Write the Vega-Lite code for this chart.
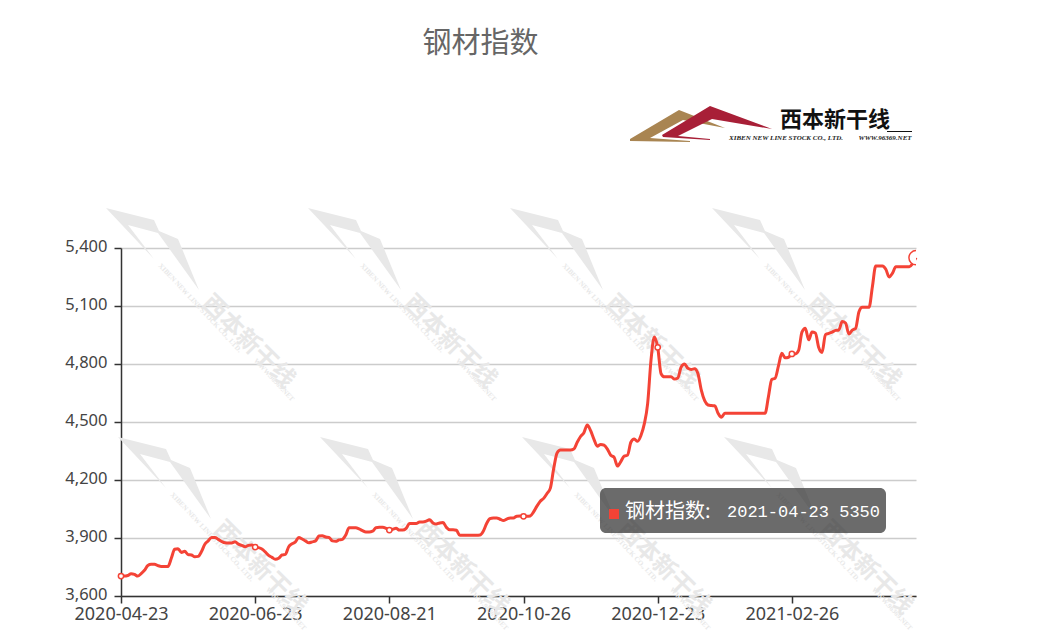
{
  "$schema": "https://vega.github.io/schema/vega-lite/v6.json",
  "width": 795,
  "height": 348,
  "autosize": "none",
  "padding": {"left": 121, "top": 248, "right": 145, "bottom": 47},
  "background": "white",
  "title": {"text": "钢材指数", "anchor": "middle", "dx": -38, "offset": 47, "font": "Noto Sans CJK SC", "fontSize": 29, "fontWeight": 400, "color": "#666666"},
  "config": {"view": {"stroke": null}},
  "datasets": {
    "prices": [
      {"date":"2020-04-23","value":3703},{"date":"2020-04-24","value":3703},{"date":"2020-04-27","value":3706},{"date":"2020-04-28","value":3715},{"date":"2020-04-29","value":3712},{"date":"2020-04-30","value":3703},
      {"date":"2020-05-06","value":3716},{"date":"2020-05-07","value":3733},{"date":"2020-05-08","value":3758},{"date":"2020-05-11","value":3764},{"date":"2020-05-12","value":3764},{"date":"2020-05-13","value":3757},{"date":"2020-05-14","value":3753},{"date":"2020-05-15","value":3753},
      {"date":"2020-05-18","value":3753},{"date":"2020-05-19","value":3795},{"date":"2020-05-20","value":3842},{"date":"2020-05-21","value":3845},{"date":"2020-05-22","value":3825},{"date":"2020-05-25","value":3831},{"date":"2020-05-26","value":3814},{"date":"2020-05-27","value":3812},{"date":"2020-05-28","value":3803},{"date":"2020-05-29","value":3805},
      {"date":"2020-06-01","value":3830},{"date":"2020-06-02","value":3868},{"date":"2020-06-03","value":3885},{"date":"2020-06-04","value":3903},{"date":"2020-06-05","value":3903},{"date":"2020-06-08","value":3893},{"date":"2020-06-09","value":3882},{"date":"2020-06-10","value":3875},{"date":"2020-06-11","value":3874},{"date":"2020-06-12","value":3874},
      {"date":"2020-06-15","value":3880},{"date":"2020-06-16","value":3868},{"date":"2020-06-17","value":3862},{"date":"2020-06-18","value":3855},{"date":"2020-06-19","value":3862},{"date":"2020-06-22","value":3864},{"date":"2020-06-23","value":3853},{"date":"2020-06-29","value":3850},{"date":"2020-06-30","value":3843},
      {"date":"2020-07-01","value":3828},{"date":"2020-07-02","value":3810},{"date":"2020-07-03","value":3800},{"date":"2020-07-06","value":3790},{"date":"2020-07-07","value":3795},{"date":"2020-07-08","value":3812},{"date":"2020-07-09","value":3815},{"date":"2020-07-10","value":3855},
      {"date":"2020-07-13","value":3870},{"date":"2020-07-14","value":3880},{"date":"2020-07-15","value":3903},{"date":"2020-07-16","value":3895},{"date":"2020-07-17","value":3885},{"date":"2020-07-20","value":3875},{"date":"2020-07-21","value":3880},{"date":"2020-07-22","value":3885},{"date":"2020-07-23","value":3910},{"date":"2020-07-24","value":3912},
      {"date":"2020-07-27","value":3905},{"date":"2020-07-28","value":3903},{"date":"2020-07-29","value":3885},{"date":"2020-07-30","value":3883},{"date":"2020-07-31","value":3890},{"date":"2020-08-03","value":3893},{"date":"2020-08-04","value":3915},{"date":"2020-08-05","value":3953},{"date":"2020-08-06","value":3953},{"date":"2020-08-07","value":3953},
      {"date":"2020-08-10","value":3947},{"date":"2020-08-11","value":3938},{"date":"2020-08-12","value":3931},{"date":"2020-08-13","value":3931},{"date":"2020-08-14","value":3935},{"date":"2020-08-17","value":3953},{"date":"2020-08-18","value":3955},{"date":"2020-08-19","value":3955},{"date":"2020-08-20","value":3950},{"date":"2020-08-21","value":3941},
      {"date":"2020-08-24","value":3945},{"date":"2020-08-25","value":3950},{"date":"2020-08-26","value":3941},{"date":"2020-08-27","value":3941},{"date":"2020-08-28","value":3950},{"date":"2020-08-31","value":3975},{"date":"2020-09-01","value":3975},{"date":"2020-09-02","value":3975},{"date":"2020-09-03","value":3983},{"date":"2020-09-04","value":3983},
      {"date":"2020-09-07","value":3987},{"date":"2020-09-08","value":3995},{"date":"2020-09-09","value":3978},{"date":"2020-09-10","value":3972},{"date":"2020-09-11","value":3978},{"date":"2020-09-14","value":3980},{"date":"2020-09-15","value":3955},{"date":"2020-09-16","value":3943},{"date":"2020-09-17","value":3943},{"date":"2020-09-18","value":3940},
      {"date":"2020-09-21","value":3914},{"date":"2020-09-22","value":3914},{"date":"2020-09-23","value":3914},{"date":"2020-09-24","value":3914},{"date":"2020-09-25","value":3914},{"date":"2020-09-28","value":3914},{"date":"2020-09-29","value":3915},{"date":"2020-09-30","value":3935},
      {"date":"2020-10-09","value":3975},{"date":"2020-10-12","value":4000},{"date":"2020-10-13","value":4004},{"date":"2020-10-14","value":4004},{"date":"2020-10-15","value":3997},{"date":"2020-10-16","value":3990},{"date":"2020-10-19","value":3998},{"date":"2020-10-20","value":4004},{"date":"2020-10-21","value":4004},{"date":"2020-10-22","value":4013},{"date":"2020-10-23","value":4014},
      {"date":"2020-10-26","value":4012},{"date":"2020-10-27","value":4012},{"date":"2020-10-28","value":4014},{"date":"2020-10-30","value":4035},{"date":"2020-11-02","value":4065},{"date":"2020-11-03","value":4090},{"date":"2020-11-04","value":4105},{"date":"2020-11-05","value":4130},{"date":"2020-11-06","value":4158},
      {"date":"2020-11-09","value":4260},{"date":"2020-11-10","value":4340},{"date":"2020-11-11","value":4355},{"date":"2020-11-12","value":4355},{"date":"2020-11-13","value":4355},{"date":"2020-11-16","value":4355},{"date":"2020-11-17","value":4360},{"date":"2020-11-18","value":4395},{"date":"2020-11-19","value":4425},{"date":"2020-11-20","value":4445},
      {"date":"2020-11-23","value":4485},{"date":"2020-11-24","value":4455},{"date":"2020-11-26","value":4410},{"date":"2020-11-27","value":4375},{"date":"2020-11-30","value":4384},{"date":"2020-12-01","value":4380},{"date":"2020-12-02","value":4360},{"date":"2020-12-03","value":4328},{"date":"2020-12-04","value":4318},
      {"date":"2020-12-07","value":4272},{"date":"2020-12-08","value":4295},{"date":"2020-12-09","value":4324},{"date":"2020-12-10","value":4328},{"date":"2020-12-11","value":4395},{"date":"2020-12-14","value":4412},{"date":"2020-12-15","value":4400},{"date":"2020-12-16","value":4430},{"date":"2020-12-17","value":4490},{"date":"2020-12-18","value":4595},
      {"date":"2020-12-21","value":4820},{"date":"2020-12-22","value":4940},{"date":"2020-12-23","value":4886},{"date":"2020-12-24","value":4750},{"date":"2020-12-25","value":4734},{"date":"2020-12-28","value":4734},{"date":"2020-12-29","value":4734},{"date":"2020-12-30","value":4722},{"date":"2020-12-31","value":4728},
      {"date":"2021-01-04","value":4785},{"date":"2021-01-05","value":4800},{"date":"2021-01-06","value":4778},{"date":"2021-01-07","value":4772},{"date":"2021-01-08","value":4775},{"date":"2021-01-11","value":4750},{"date":"2021-01-12","value":4665},{"date":"2021-01-13","value":4610},{"date":"2021-01-14","value":4588},{"date":"2021-01-15","value":4585},
      {"date":"2021-01-18","value":4584},{"date":"2021-01-19","value":4545},{"date":"2021-01-20","value":4524},{"date":"2021-01-21","value":4545},{"date":"2021-01-22","value":4545},{"date":"2021-01-25","value":4545},{"date":"2021-01-26","value":4545},{"date":"2021-01-27","value":4545},{"date":"2021-01-28","value":4545},{"date":"2021-01-29","value":4545},
      {"date":"2021-02-01","value":4545},{"date":"2021-02-02","value":4545},{"date":"2021-02-03","value":4545},{"date":"2021-02-04","value":4545},{"date":"2021-02-05","value":4545},{"date":"2021-02-08","value":4545},{"date":"2021-02-09","value":4630},{"date":"2021-02-10","value":4720},{"date":"2021-02-18","value":4726},{"date":"2021-02-19","value":4790},
      {"date":"2021-02-22","value":4855},{"date":"2021-02-23","value":4832},{"date":"2021-02-24","value":4835},{"date":"2021-02-26","value":4852},{"date":"2021-03-01","value":4852},{"date":"2021-03-02","value":4870},{"date":"2021-03-03","value":4965},{"date":"2021-03-04","value":4985},{"date":"2021-03-05","value":4925},
      {"date":"2021-03-08","value":4965},{"date":"2021-03-09","value":4960},{"date":"2021-03-11","value":4885},{"date":"2021-03-12","value":4860},{"date":"2021-03-15","value":4952},{"date":"2021-03-16","value":4958},{"date":"2021-03-17","value":4965},{"date":"2021-03-18","value":4974},{"date":"2021-03-19","value":4976},
      {"date":"2021-03-22","value":5020},{"date":"2021-03-23","value":5012},{"date":"2021-03-24","value":4955},{"date":"2021-03-25","value":4975},{"date":"2021-03-26","value":4984},{"date":"2021-03-29","value":5070},{"date":"2021-03-30","value":5093},{"date":"2021-03-31","value":5093},{"date":"2021-04-01","value":5093},{"date":"2021-04-02","value":5200},
      {"date":"2021-04-06","value":5307},{"date":"2021-04-08","value":5307},{"date":"2021-04-09","value":5307},{"date":"2021-04-12","value":5290},{"date":"2021-04-13","value":5250},{"date":"2021-04-14","value":5270},{"date":"2021-04-15","value":5303},{"date":"2021-04-16","value":5303},
      {"date":"2021-04-19","value":5303},{"date":"2021-04-20","value":5303},{"date":"2021-04-21","value":5303},{"date":"2021-04-22","value":5320},{"date":"2021-04-23","value":5350}
    ],
    "shapes": [
      {"g":"w1","part":"wm","o":0,"px":106,"py":208},{"g":"w1","part":"wm","o":1,"px":154,"py":220},{"g":"w1","part":"wm","o":2,"px":159,"py":231},{"g":"w1","part":"wm","o":3,"px":178,"py":239},{"g":"w1","part":"wm","o":4,"px":199,"py":290},{"g":"w1","part":"wm","o":5,"px":158,"py":233},{"g":"w1","part":"wm","o":6,"px":128,"py":225},{"g":"w1","part":"wm","o":7,"px":154,"py":259},
      {"g":"w2","part":"wm","o":0,"px":308,"py":208},{"g":"w2","part":"wm","o":1,"px":356,"py":220},{"g":"w2","part":"wm","o":2,"px":361,"py":231},{"g":"w2","part":"wm","o":3,"px":380,"py":239},{"g":"w2","part":"wm","o":4,"px":401,"py":290},{"g":"w2","part":"wm","o":5,"px":360,"py":233},{"g":"w2","part":"wm","o":6,"px":330,"py":225},{"g":"w2","part":"wm","o":7,"px":356,"py":259},
      {"g":"w3","part":"wm","o":0,"px":510,"py":208},{"g":"w3","part":"wm","o":1,"px":558,"py":220},{"g":"w3","part":"wm","o":2,"px":563,"py":231},{"g":"w3","part":"wm","o":3,"px":582,"py":239},{"g":"w3","part":"wm","o":4,"px":603,"py":290},{"g":"w3","part":"wm","o":5,"px":562,"py":233},{"g":"w3","part":"wm","o":6,"px":532,"py":225},{"g":"w3","part":"wm","o":7,"px":558,"py":259},
      {"g":"w4","part":"wm","o":0,"px":712,"py":208},{"g":"w4","part":"wm","o":1,"px":760,"py":220},{"g":"w4","part":"wm","o":2,"px":765,"py":231},{"g":"w4","part":"wm","o":3,"px":784,"py":239},{"g":"w4","part":"wm","o":4,"px":805,"py":290},{"g":"w4","part":"wm","o":5,"px":764,"py":233},{"g":"w4","part":"wm","o":6,"px":734,"py":225},{"g":"w4","part":"wm","o":7,"px":760,"py":259},
      {"g":"w5","part":"wm","o":0,"px":118,"py":437},{"g":"w5","part":"wm","o":1,"px":166,"py":449},{"g":"w5","part":"wm","o":2,"px":171,"py":460},{"g":"w5","part":"wm","o":3,"px":190,"py":468},{"g":"w5","part":"wm","o":4,"px":211,"py":519},{"g":"w5","part":"wm","o":5,"px":170,"py":462},{"g":"w5","part":"wm","o":6,"px":140,"py":454},{"g":"w5","part":"wm","o":7,"px":166,"py":488},
      {"g":"w6","part":"wm","o":0,"px":320,"py":437},{"g":"w6","part":"wm","o":1,"px":368,"py":449},{"g":"w6","part":"wm","o":2,"px":373,"py":460},{"g":"w6","part":"wm","o":3,"px":392,"py":468},{"g":"w6","part":"wm","o":4,"px":413,"py":519},{"g":"w6","part":"wm","o":5,"px":372,"py":462},{"g":"w6","part":"wm","o":6,"px":342,"py":454},{"g":"w6","part":"wm","o":7,"px":368,"py":488},
      {"g":"w7","part":"wm","o":0,"px":522,"py":437},{"g":"w7","part":"wm","o":1,"px":570,"py":449},{"g":"w7","part":"wm","o":2,"px":575,"py":460},{"g":"w7","part":"wm","o":3,"px":594,"py":468},{"g":"w7","part":"wm","o":4,"px":615,"py":519},{"g":"w7","part":"wm","o":5,"px":574,"py":462},{"g":"w7","part":"wm","o":6,"px":544,"py":454},{"g":"w7","part":"wm","o":7,"px":570,"py":488},
      {"g":"w8","part":"wm","o":0,"px":724,"py":437},{"g":"w8","part":"wm","o":1,"px":772,"py":449},{"g":"w8","part":"wm","o":2,"px":777,"py":460},{"g":"w8","part":"wm","o":3,"px":796,"py":468},{"g":"w8","part":"wm","o":4,"px":817,"py":519},{"g":"w8","part":"wm","o":5,"px":776,"py":462},{"g":"w8","part":"wm","o":6,"px":746,"py":454},{"g":"w8","part":"wm","o":7,"px":772,"py":488},
      {"g":"b","part":"brown","o":0,"px":630,"py":139},{"g":"b","part":"brown","o":1,"px":679,"py":110},{"g":"b","part":"brown","o":2,"px":725,"py":128},{"g":"b","part":"brown","o":3,"px":683,"py":120},{"g":"b","part":"brown","o":4,"px":650,"py":138},{"g":"b","part":"brown","o":5,"px":690,"py":141},{"g":"b","part":"brown","o":6,"px":690,"py":142},{"g":"b","part":"brown","o":7,"px":630,"py":141},
      {"g":"r","part":"red","o":0,"px":662,"py":135},{"g":"r","part":"red","o":1,"px":710,"py":106},{"g":"r","part":"red","o":2,"px":772,"py":129},{"g":"r","part":"red","o":3,"px":712,"py":119},{"g":"r","part":"red","o":4,"px":678,"py":136},{"g":"r","part":"red","o":5,"px":710,"py":139},{"g":"r","part":"red","o":6,"px":710,"py":140},{"g":"r","part":"red","o":7,"px":663,"py":137},
      {"g":"u","part":"ink","o":0,"px":887,"py":131},{"g":"u","part":"ink","o":1,"px":912,"py":131},{"g":"u","part":"ink","o":2,"px":912,"py":132},{"g":"u","part":"ink","o":3,"px":887,"py":132}
    ],
    "wmName": [
      {"label":"西本新干线","px":248,"py":342},{"label":"西本新干线","px":450,"py":342},{"label":"西本新干线","px":652,"py":342},{"label":"西本新干线","px":854,"py":342},
      {"label":"西本新干线","px":260,"py":568},{"label":"西本新干线","px":462,"py":568},{"label":"西本新干线","px":664,"py":568},{"label":"西本新干线","px":866,"py":568}
    ],
    "wmSmall": [
      {"label":"XIBEN NEW LINE STOCK CO., LTD.","px":200,"py":308},{"label":"XIBEN NEW LINE STOCK CO., LTD.","px":402,"py":308},{"label":"XIBEN NEW LINE STOCK CO., LTD.","px":604,"py":308},{"label":"XIBEN NEW LINE STOCK CO., LTD.","px":806,"py":308},
      {"label":"XIBEN NEW LINE STOCK CO., LTD.","px":212,"py":537},{"label":"XIBEN NEW LINE STOCK CO., LTD.","px":414,"py":537},{"label":"XIBEN NEW LINE STOCK CO., LTD.","px":616,"py":537},{"label":"XIBEN NEW LINE STOCK CO., LTD.","px":818,"py":537},
      {"label":"WWW.96369.NET","px":274,"py":380},{"label":"WWW.96369.NET","px":476,"py":380},{"label":"WWW.96369.NET","px":678,"py":380},{"label":"WWW.96369.NET","px":880,"py":380},
      {"label":"WWW.96369.NET","px":286,"py":609},{"label":"WWW.96369.NET","px":488,"py":609},{"label":"WWW.96369.NET","px":690,"py":609},{"label":"WWW.96369.NET","px":892,"py":609}
    ]
  },
  "layer": [
    {
      "data": {"name": "shapes"},
      "mark": {"type": "line", "strokeWidth": 0},
      "encoding": {
        "x": {"field": "px", "type": "quantitative", "scale": {"domain": [121, 916], "nice": false, "zero": false}, "axis": null},
        "y": {"field": "py", "type": "quantitative", "scale": {"domain": [248, 596], "nice": false, "zero": false, "reverse": true}, "axis": null},
        "detail": {"field": "g"},
        "order": {"field": "o"},
        "fill": {"field": "part", "type": "nominal", "legend": null, "scale": {"domain": ["wm", "brown", "red", "ink"], "range": ["#e8e8e8", "#a98552", "#a81f37", "#111111"]}}
      }
    },
    {
      "data": {"name": "wmName"},
      "mark": {"type": "text", "angle": 45, "font": "Noto Sans CJK SC", "fontSize": 24, "fontWeight": 700, "color": "#e8e8e8"},
      "encoding": {
        "x": {"field": "px", "type": "quantitative", "scale": {"domain": [121, 916], "nice": false, "zero": false}, "axis": null},
        "y": {"field": "py", "type": "quantitative", "scale": {"domain": [248, 596], "nice": false, "zero": false, "reverse": true}, "axis": null},
        "text": {"field": "label"}
      }
    },
    {
      "data": {"name": "wmSmall"},
      "mark": {"type": "text", "angle": 47, "font": "Liberation Serif", "fontSize": 7, "fontWeight": 700, "color": "#e8e8e8"},
      "encoding": {
        "x": {"field": "px", "type": "quantitative", "scale": {"domain": [121, 916], "nice": false, "zero": false}, "axis": null},
        "y": {"field": "py", "type": "quantitative", "scale": {"domain": [248, 596], "nice": false, "zero": false, "reverse": true}, "axis": null},
        "text": {"field": "label"}
      }
    },
    {
      "data": {"values": [{"label":"西本新干线","px":835,"py":120}]},
      "mark": {"type": "text", "font": "Noto Sans CJK SC", "fontSize": 22, "fontWeight": 700, "color": "#111111"},
      "encoding": {
        "x": {"field": "px", "type": "quantitative", "scale": {"domain": [121, 916], "nice": false, "zero": false}, "axis": null},
        "y": {"field": "py", "type": "quantitative", "scale": {"domain": [248, 596], "nice": false, "zero": false, "reverse": true}, "axis": null},
        "text": {"field": "label"}
      }
    },
    {
      "data": {"values": [{"label":"XIBEN NEW LINE STOCK CO., LTD.","px":786,"py":138},{"label":"WWW.96369.NET","px":885,"py":138}]},
      "mark": {"type": "text", "font": "Liberation Serif", "fontSize": 7, "fontWeight": 700, "fontStyle": "italic", "color": "#222222"},
      "encoding": {
        "x": {"field": "px", "type": "quantitative", "scale": {"domain": [121, 916], "nice": false, "zero": false}, "axis": null},
        "y": {"field": "py", "type": "quantitative", "scale": {"domain": [248, 596], "nice": false, "zero": false, "reverse": true}, "axis": null},
        "text": {"field": "label"}
      }
    },
    {
      "data": {"name": "prices"},
      "encoding": {
        "x": {
          "field": "date", "type": "ordinal", "sort": null,
          "scale": {"type": "point", "padding": 0},
          "axis": {
            "title": null, "orient": "bottom", "grid": false, "labelAngle": 0,
            "values": ["2020-04-23", "2020-06-23", "2020-08-21", "2020-10-26", "2020-12-23", "2021-02-26"],
            "labelFont": "Noto Sans", "labelFontSize": 18, "labelColor": "#444444", "labelPadding": 2,
            "domainColor": "#333333", "domainWidth": 1.5, "tickColor": "#333333", "tickWidth": 1.5, "tickSize": 7
          }
        },
        "y": {
          "field": "value", "type": "quantitative",
          "scale": {"domain": [3600, 5400], "nice": false, "zero": false},
          "axis": {
            "title": null, "values": [3600, 3900, 4200, 4500, 4800, 5100, 5400], "format": ",.0f",
            "grid": true, "gridColor": "#cccccc", "gridWidth": 1.5,
            "labelFont": "Noto Sans", "labelFontSize": 16.5, "labelColor": "#444444", "labelPadding": 7, "labelOffset": -2,
            "domainColor": "#333333", "domainWidth": 1.5, "tickColor": "#333333", "tickWidth": 1.5, "tickSize": 7
          }
        }
      },
      "layer": [
        {"mark": {"type": "line", "color": "#f44336", "strokeWidth": 3, "interpolate": "monotone"}},
        {
          "transform": [{"filter": {"field": "date", "oneOf": ["2020-04-23", "2020-06-23", "2020-08-21", "2020-10-26", "2020-12-23", "2021-02-26"]}}],
          "mark": {"type": "point", "filled": true, "fill": "white", "stroke": "#f44336", "strokeWidth": 1.5, "size": 28, "opacity": 1}
        },
        {
          "transform": [{"filter": {"field": "date", "equal": "2021-04-23"}}],
          "mark": {"type": "point", "filled": true, "fill": "white", "stroke": "#f44336", "strokeWidth": 1.5, "size": 200, "opacity": 1, "clip": true}
        }
      ]
    },
    {
      "data": {"values": [{"px":600,"px2":886,"py":488,"py2":533}]},
      "mark": {"type": "rect", "color": "#323232", "opacity": 0.72, "cornerRadius": 6},
      "encoding": {
        "x": {"field": "px", "type": "quantitative", "scale": {"domain": [121, 916], "nice": false, "zero": false}, "axis": null},
        "x2": {"field": "px2"},
        "y": {"field": "py", "type": "quantitative", "scale": {"domain": [248, 596], "nice": false, "zero": false, "reverse": true}, "axis": null},
        "y2": {"field": "py2"}
      }
    },
    {
      "data": {"values": [{"px":609,"px2":619,"py":509,"py2":519}]},
      "mark": {"type": "rect", "color": "#f44336"},
      "encoding": {
        "x": {"field": "px", "type": "quantitative", "scale": {"domain": [121, 916], "nice": false, "zero": false}, "axis": null},
        "x2": {"field": "px2"},
        "y": {"field": "py", "type": "quantitative", "scale": {"domain": [248, 596], "nice": false, "zero": false, "reverse": true}, "axis": null},
        "y2": {"field": "py2"}
      }
    },
    {
      "data": {"values": [{"label":"钢材指数:","px":625,"py":512}]},
      "mark": {"type": "text", "align": "left", "baseline": "middle", "font": "Noto Sans CJK SC", "fontSize": 20, "color": "white"},
      "encoding": {
        "x": {"field": "px", "type": "quantitative", "scale": {"domain": [121, 916], "nice": false, "zero": false}, "axis": null},
        "y": {"field": "py", "type": "quantitative", "scale": {"domain": [248, 596], "nice": false, "zero": false, "reverse": true}, "axis": null},
        "text": {"field": "label"}
      }
    },
    {
      "data": {"values": [{"label":"2021-04-23 5350","px":727,"py":512}]},
      "mark": {"type": "text", "align": "left", "baseline": "middle", "font": "Liberation Mono", "fontSize": 17, "color": "white"},
      "encoding": {
        "x": {"field": "px", "type": "quantitative", "scale": {"domain": [121, 916], "nice": false, "zero": false}, "axis": null},
        "y": {"field": "py", "type": "quantitative", "scale": {"domain": [248, 596], "nice": false, "zero": false, "reverse": true}, "axis": null},
        "text": {"field": "label"}
      }
    }
  ],
  "resolve": {"scale": {"x": "independent", "y": "independent", "fill": "independent"}, "axis": {"x": "independent", "y": "independent"}}
}
